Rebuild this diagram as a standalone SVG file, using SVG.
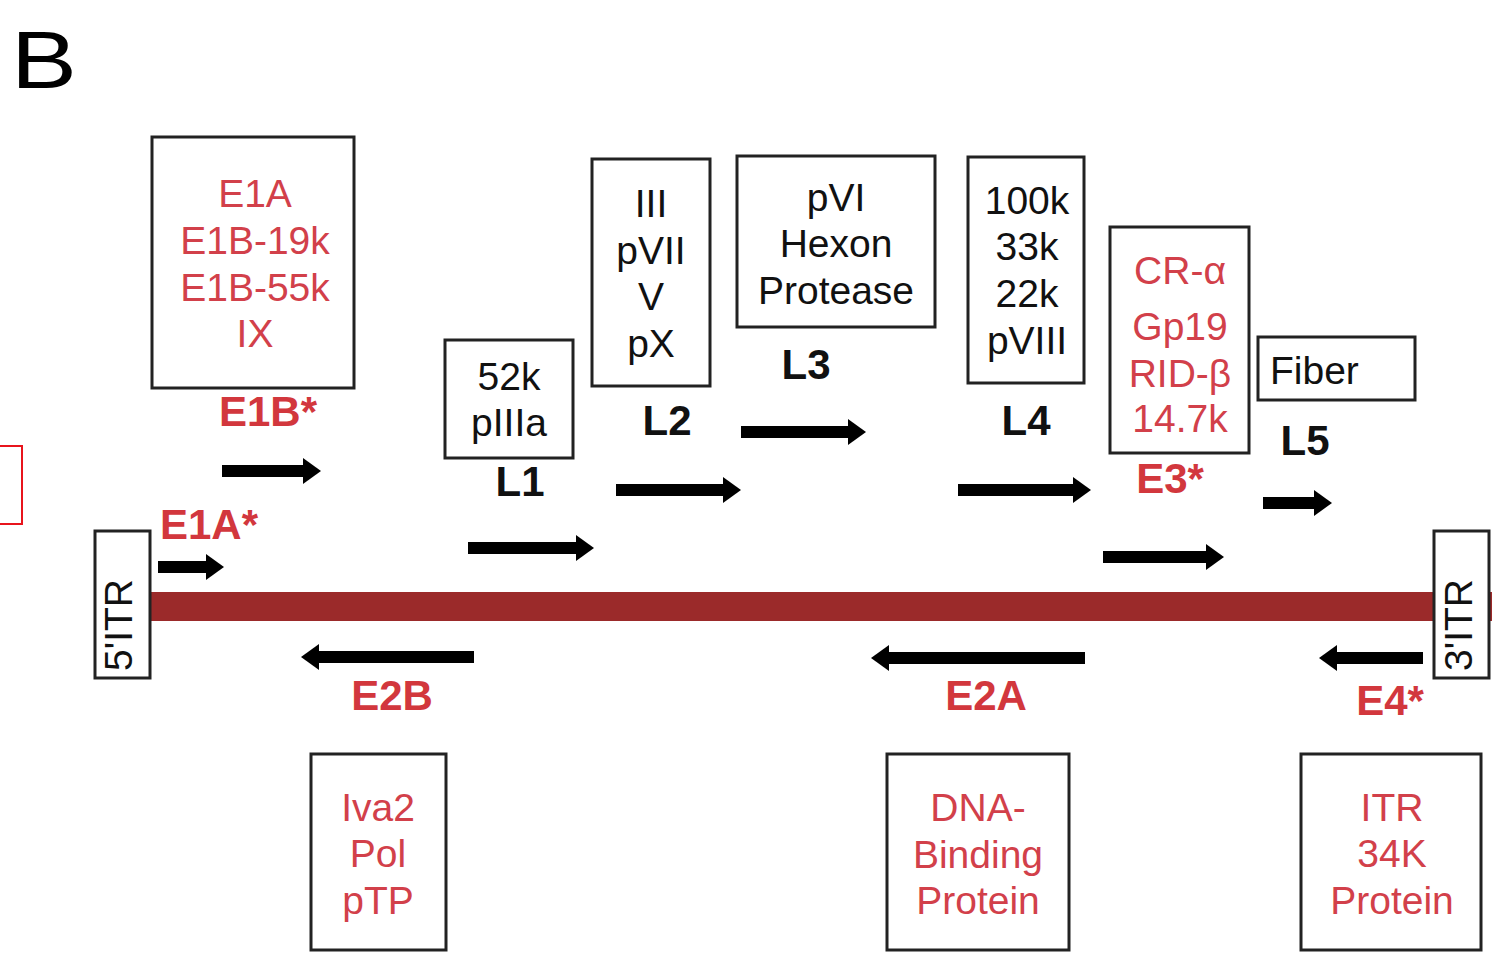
<svg xmlns="http://www.w3.org/2000/svg" width="1507" height="955" viewBox="0 0 1507 955">
<defs>
<style>
.box{fill:#fff;stroke:#222;stroke-width:3}
.t{font-family:"Liberation Sans",Arial,sans-serif;font-size:39px;text-anchor:middle}
.red{fill:#d2404a}
.blk{fill:#111}
.lb{font-family:"Liberation Sans",Arial,sans-serif;font-size:42px;font-weight:bold;text-anchor:middle}
.rl{fill:#d2373d}
.arr{stroke:#000;stroke-width:12;fill:none}
</style>
<marker id="ah" markerUnits="userSpaceOnUse" markerWidth="18" markerHeight="28" refX="2" refY="14" orient="auto">
<polygon points="0,1 18,14 0,27" fill="#000"/>
</marker>
</defs>
<rect width="1507" height="955" fill="#fff"/>
<text transform="translate(11,88) scale(1.22,1)" font-family="Liberation Sans,Arial,sans-serif" font-size="81" fill="#000">B</text>
<rect x="-2" y="446" width="24" height="78" fill="none" stroke="#e8141c" stroke-width="2"/>

<g id="backbone">
<rect x="150" y="592" width="1342" height="29" fill="#9b2a2a"/>
</g>
<g id="itr5">
<rect class="box" x="95" y="531" width="55" height="147"/>
<text class="t blk" font-size="30" transform="translate(132,625) rotate(-90)">5'ITR</text>
</g>
<g id="itr3">
<rect class="box" x="1434" y="531" width="55" height="147"/>
<text class="t blk" font-size="30" transform="translate(1472,625) rotate(-90)">3'ITR</text>
</g>

<g id="connectors">
<line class="arr" x1="222" y1="471" x2="305" y2="471" marker-end="url(#ah)"/>
<line class="arr" x1="158" y1="567" x2="208" y2="567" marker-end="url(#ah)"/>
<line class="arr" x1="468" y1="548" x2="578" y2="548" marker-end="url(#ah)"/>
<line class="arr" x1="616" y1="490" x2="725" y2="490" marker-end="url(#ah)"/>
<line class="arr" x1="741" y1="432" x2="850" y2="432" marker-end="url(#ah)"/>
<line class="arr" x1="958" y1="490" x2="1075" y2="490" marker-end="url(#ah)"/>
<line class="arr" x1="1103" y1="557" x2="1208" y2="557" marker-end="url(#ah)"/>
<line class="arr" x1="1263" y1="503" x2="1316" y2="503" marker-end="url(#ah)"/>
<line class="arr" x1="474" y1="657" x2="317" y2="657" marker-end="url(#ah)"/>
<line class="arr" x1="1085" y1="658" x2="887" y2="658" marker-end="url(#ah)"/>
<line class="arr" x1="1423" y1="658" x2="1335" y2="658" marker-end="url(#ah)"/>
</g>

<g id="e1">
<rect class="box" x="152" y="137" width="202" height="251"/>
<text class="t red" x="255" y="207">E1A</text>
<text class="t red" x="255" y="254">E1B-19k</text>
<text class="t red" x="255" y="301">E1B-55k</text>
<text class="t red" x="255" y="347">IX</text>
<text class="lb rl" x="268" y="426">E1B*</text>
<text class="lb rl" x="209" y="539">E1A*</text>
</g>

<g id="l1">
<rect class="box" x="445" y="340" width="128" height="118"/>
<text class="t blk" x="509" y="390">52k</text>
<text class="t blk" x="509" y="436">pIIIa</text>
<text class="lb blk" x="520" y="496">L1</text>
</g>

<g id="l2">
<rect class="box" x="592" y="159" width="118" height="227"/>
<text class="t blk" x="651" y="217">III</text>
<text class="t blk" x="651" y="264">pVII</text>
<text class="t blk" x="651" y="310">V</text>
<text class="t blk" x="651" y="357">pX</text>
<text class="lb blk" x="667" y="435">L2</text>
</g>

<g id="l3">
<rect class="box" x="737" y="156" width="198" height="171"/>
<text class="t blk" x="836" y="211">pVI</text>
<text class="t blk" x="836" y="257">Hexon</text>
<text class="t blk" x="836" y="304">Protease</text>
<text class="lb blk" x="806" y="379">L3</text>
</g>

<g id="l4">
<rect class="box" x="968" y="157" width="116" height="226"/>
<text class="t blk" x="1027" y="214">100k</text>
<text class="t blk" x="1027" y="260">33k</text>
<text class="t blk" x="1027" y="307">22k</text>
<text class="t blk" x="1027" y="354">pVIII</text>
<text class="lb blk" x="1026" y="435">L4</text>
</g>

<g id="e3">
<rect class="box" x="1110" y="227" width="139" height="226"/>
<text class="t red" x="1180" y="284">CR-α</text>
<text class="t red" x="1180" y="340">Gp19</text>
<text class="t red" x="1180" y="387">RID-β</text>
<text class="t red" x="1180" y="432">14.7k</text>
<text class="lb rl" x="1170" y="493">E3*</text>
</g>

<g id="l5">
<rect class="box" x="1258" y="337" width="157" height="63"/>
<text class="t blk" x="1270" y="384" style="text-anchor:start">Fiber</text>
<text class="lb blk" x="1305" y="455">L5</text>
</g>

<g id="e2b">
<text class="lb rl" x="392" y="710">E2B</text>
<rect class="box" x="311" y="754" width="135" height="196"/>
<text class="t red" x="378" y="821">Iva2</text>
<text class="t red" x="378" y="867">Pol</text>
<text class="t red" x="378" y="914">pTP</text>
</g>

<g id="e2a">
<text class="lb rl" x="986" y="710">E2A</text>
<rect class="box" x="887" y="754" width="182" height="196"/>
<text class="t red" x="978" y="821">DNA-</text>
<text class="t red" x="978" y="868">Binding</text>
<text class="t red" x="978" y="914">Protein</text>
</g>

<g id="e4">
<text class="lb rl" x="1390" y="715">E4*</text>
<rect class="box" x="1301" y="754" width="180" height="196"/>
<text class="t red" x="1392" y="821">ITR</text>
<text class="t red" x="1392" y="867">34K</text>
<text class="t red" x="1392" y="914">Protein</text>
</g>
</svg>
